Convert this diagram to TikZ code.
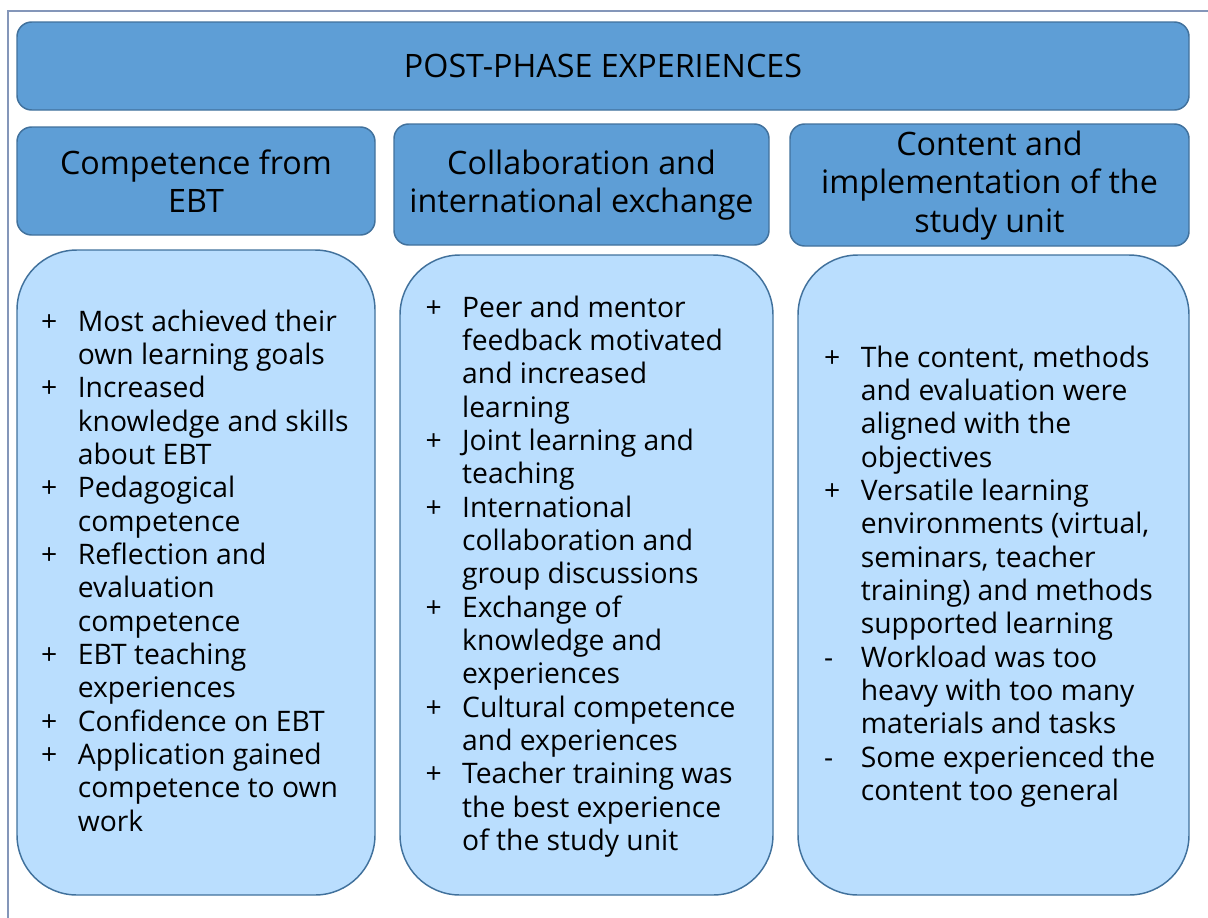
\documentclass[tikz,border=0pt]{standalone}
\usepackage{fontspec}
\setmainfont{Open Sans}
\usetikzlibrary{positioning}

\definecolor{hdrblue}{RGB}{94,158,214}
\definecolor{bodyblue}{RGB}{186,222,254}
\definecolor{edgeblue}{RGB}{65,113,156}
\definecolor{framegray}{RGB}{132,150,185}

\newcommand{\pxu}{0.75pt}
\newcommand{\bodyfont}{\fontsize{21.2}{25}\selectfont}
\newcommand{\hdrfont}{\fontsize{24.2}{29}\selectfont}

\tikzset{
  titlebox/.style={draw=edgeblue, line width=1.1pt, fill=hdrblue, rounded corners=11pt, align=center, font=\hdrfont},
  hdrbox/.style={draw=edgeblue, line width=1.1pt, fill=hdrblue, rounded corners=11pt, align=center, font=\hdrfont},
  bodybox/.style={draw=edgeblue, line width=1.1pt, fill=bodyblue, rounded corners=45pt},
  itemtext/.style={inner sep=0pt, font=\bodyfont, align=left, yshift=-1.5pt},
}

\begin{document}
\begin{tikzpicture}[x=0.75pt, y=-0.75pt]
	\useasboundingbox (0,0) rectangle (1208,918);

	% Frame
	\draw[framegray, line width=1pt] (8,918) -- (8,11) -- (1208,11);

	% Title
	\node[titlebox, minimum width=1172*\pxu, minimum height=88*\pxu] (title) at (603,66) {POST-PHASE EXPERIENCES};

	% Headers
	\node[hdrbox, minimum width=358*\pxu, minimum height=108*\pxu] (hdr1) at (196,181) {Competence from\\EBT};
	\node[hdrbox, minimum width=375*\pxu, minimum height=121*\pxu, text depth=5pt] (hdr2) at (581.5,184.5) {Collaboration and\\international exchange};
	\node[hdrbox, minimum width=399*\pxu, minimum height=122*\pxu, text depth=5pt] (hdr3) at (989.5,185) {Content and\\implementation of the\\study unit};

	% Bodies
	\node[bodybox, minimum width=358*\pxu, minimum height=645*\pxu] (body1) at (196,572.5) {};
	\node[bodybox, minimum width=373*\pxu, minimum height=640*\pxu] (body2) at (586.5,575) {};
	\node[bodybox, minimum width=391*\pxu, minimum height=640*\pxu] (body3) at (993.5,575) {};

	% Lists
	\node[itemtext, right=18.5pt of body1.west] (list1) {%
		\begin{tabular}{@{}p{27.5pt}@{}l@{}}
		+ & Most achieved their\\
		  & own learning goals\\
		+ & Increased\\
		  & knowledge and skills\\
		  & about EBT\\
		+ & Pedagogical\\
		  & competence\\
		+ & Reflection and\\
		  & evaluation\\
		  & competence\\
		+ & EBT teaching\\
		  & experiences\\
		+ & Confidence on EBT\\
		+ & Application gained\\
		  & competence to own\\
		  & work
		\end{tabular}};
	\node[itemtext, right=19.5pt of body2.west] (list2) {%
		\begin{tabular}{@{}p{27.5pt}@{}l@{}}
		+ & Peer and mentor\\
		  & feedback motivated\\
		  & and increased\\
		  & learning\\
		+ & Joint learning and\\
		  & teaching\\
		+ & International\\
		  & collaboration and\\
		  & group discussions\\
		+ & Exchange of\\
		  & knowledge and\\
		  & experiences\\
		+ & Cultural competence\\
		  & and experiences\\
		+ & Teacher training was\\
		  & the best experience\\
		  & of the study unit
		\end{tabular}};
	\node[itemtext, right=20pt of body3.west] (list3) {%
		\begin{tabular}{@{}p{27.5pt}@{}l@{}}
		+ & The content, methods\\
		  & and evaluation were\\
		  & aligned with the\\
		  & objectives\\
		+ & Versatile learning\\
		  & environments (virtual,\\
		  & seminars, teacher\\
		  & training) and methods\\
		  & supported learning\\
		- & Workload was too\\
		  & heavy with too many\\
		  & materials and tasks\\
		- & Some experienced the\\
		  & content too general
		\end{tabular}};

\end{tikzpicture}
\end{document}
